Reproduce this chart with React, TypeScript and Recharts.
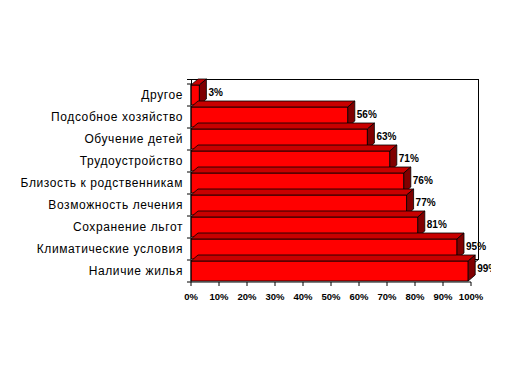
import { BarChart, Bar, XAxis, YAxis, LabelList } from "recharts";

const categories = [
  "Другое",
  "Подсобное хозяйство",
  "Обучение детей",
  "Трудоустройство",
  "Близость к родственникам",
  "Возможность лечения",
  "Сохранение льгот",
  "Климатические условия",
  "Наличие жилья",
];
const values = [3, 56, 63, 71, 76, 77, 81, 95, 99];
const xTicks = [0, 10, 20, 30, 40, 50, 60, 70, 80, 90, 100];

const data = categories.map((name, i) => ({ name, value: values[i] }));

// 3D depth offset
const DX = 7;
const DY = 6;
const FONT = "Arial, 'Liberation Sans', sans-serif";

// back wall outline, drawn with the first bar so later bars cover its hidden edges
function BackWall({ bx, by, bw, bh }: { bx: number; by: number; bw: number; bh: number }) {
  const h = bh * categories.length;
  const left = Math.round(bx + DX) + 0.5;
  const top = Math.round(by - DY) + 0.5;
  const right = Math.round(bx + bw + DX) + 0.5;
  return (
    <g stroke="#000" strokeWidth={1} fill="#fff">
      <rect x={left} y={top} width={right - left} height={h} />
      <line x1={bx - 4} y1={top} x2={left} y2={top} />
      <line x1={Math.round(bx) + 0.5} y1={top} x2={Math.round(bx) + 0.5} y2={by} />
      <line x1={bx + bw} y1={by + h} x2={right} y2={top + h} />
    </g>
  );
}

function Bar3D(props: any) {
  const { x, y, width, height, background, payload } = props;
  if (width == null || height == null) return null;
  const name = payload?.name ?? props.name;
  const isFirst = name === categories[0];
  const r = x + width;
  const bg = background ?? {};
  const bx = Number.isFinite(bg.x) ? bg.x : x;
  const bw = Number.isFinite(bg.width) ? bg.width : 280;
  const by = Number.isFinite(bg.y) ? bg.y : y - 1;
  const bh = Number.isFinite(bg.height) ? bg.height : height + 2;
  return (
    <g>
      {isFirst && <BackWall bx={bx} by={by} bw={bw} bh={bh} />}
      <g stroke="#000" strokeWidth={0.8} strokeLinejoin="round">
        <rect x={x} y={y} width={width} height={height} fill="#ff0000" />
        <polygon
          points={`${x},${y} ${x + DX},${y - DY} ${r + DX},${y - DY} ${r},${y}`}
          fill="#c80000"
        />
        <polygon
          points={`${r},${y} ${r + DX},${y - DY} ${r + DX},${y + height - DY} ${r},${y + height}`}
          fill="#800000"
        />
      </g>
    </g>
  );
}

function CategoryTick(props: any) {
  const { x, y, payload, index } = props;
  const half = 11;
  return (
    <g>
      <text
        x={x - 8}
        y={y}
        textAnchor="end"
        dominantBaseline="central"
        fontFamily={FONT}
        fontSize={12}
        letterSpacing={0.6}
        fill="#000"
      >
        {payload.value}
      </text>
      <line x1={x - 4} y1={y + half} x2={x} y2={y + half} stroke="#000" />
      {index === 0 && <line x1={x - 4} y1={y - half} x2={x} y2={y - half} stroke="#000" />}
    </g>
  );
}

function ValueLabel(props: any) {
  const { x, y, width, height, value, index } = props;
  const id = `lbl-clip-${index}`;
  return (
    <g>
      <defs>
        <clipPath id={id}>
          <rect x={0} y={0} width={491} height={380} />
        </clipPath>
      </defs>
      <text
        clipPath={`url(#${id})`}
        x={x + width + DX + 2}
        y={y + height / 2 - 3}
        dominantBaseline="central"
        fontFamily={FONT}
        fontSize={10}
        fontWeight="bold"
        fill="#000"
      >
        {value}%
      </text>
    </g>
  );
}

export default function App() {
  return (
    <div style={{ position: "absolute", left: 0, top: 0, background: "#fff" }}>
      <BarChart
        width={523}
        height={380}
        data={data}
        layout="vertical"
        margin={{ top: 84, right: 52, bottom: 68, left: 1 }}
        barCategoryGap={1}
      >
        <XAxis
          type="number"
          domain={[0, 100]}
          ticks={xTicks}
          tickFormatter={(v) => `${v}%`}
          interval={0}
          height={30}
          stroke="#000"
          tickSize={4}
          tickMargin={7}
          tick={{ fontSize: 9.5, fontWeight: "bold", fill: "#000", fontFamily: FONT }}
        />
        <YAxis
          type="category"
          dataKey="name"
          width={190}
          stroke="#000"
          tickLine={false}
          tickSize={0}
          tickMargin={0}
          interval={0}
          tick={<CategoryTick />}
        />
        <Bar dataKey="value" shape={<Bar3D />} isAnimationActive={false}>
          <LabelList dataKey="value" content={<ValueLabel />} />
        </Bar>
      </BarChart>
    </div>
  );
}
